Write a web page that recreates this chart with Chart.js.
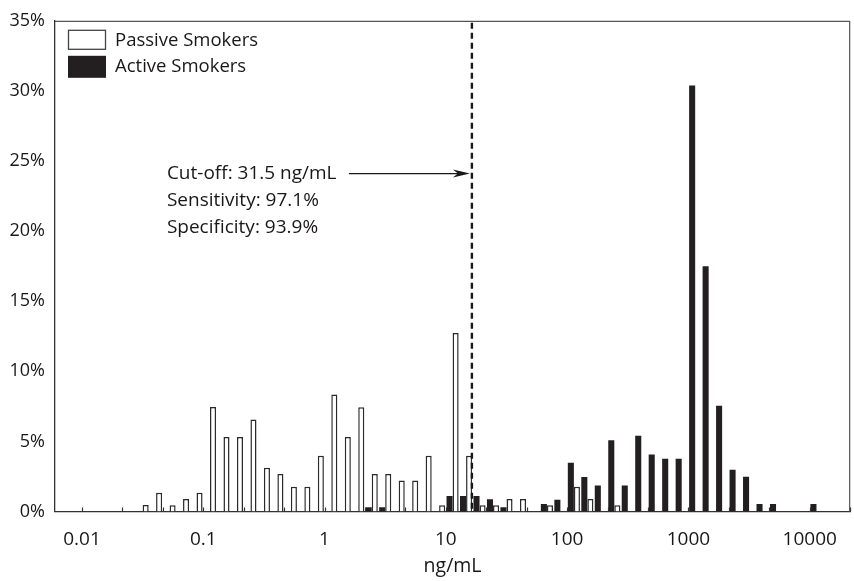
<!DOCTYPE html>
<html><head><meta charset="utf-8">
<script src="https://cdn.jsdelivr.net/npm/chart.js@4.4.0/dist/chart.umd.min.js"></script>
<style>html,body{margin:0;padding:0;background:#fff}#wrap{width:854px;height:581px;position:relative}</style>
</head><body><div id="wrap"><canvas id="c" width="854" height="581"></canvas></div>
<script>
// ---- data (percent of subjects per log-spaced bin, 9 bins per decade) ----
const seriesNames = ['Passive Smokers', 'Active Smokers'];
const passive = [
  0,0,0,0,0,0,0.46,1.34,0.44,0.89,
  1.34,7.46,5.31,5.31,6.56,3.12,2.67,1.77,1.77,3.97,
  8.35,5.31,7.44,2.67,2.67,2.22,2.22,3.97,0.44,12.73,
  3.97,0.44,0.44,0.89,0.89,0,0.44,0,1.77,0.89,
  0,0.44,0,0,0,0,0,0,0,0,
  0,0,0,0,0,0,0,0,0
];
const active = [
  0,0,0,0,0,0,0,0,0,0,
  0,0,0,0,0,0,0,0,0,0,
  0,0,0,0.3,0.3,0,0,0,0,1.1,
  1.1,1.1,0.87,0.3,0,0,0.53,0.84,3.48,2.46,
  1.86,5.09,1.86,5.4,4.07,3.77,3.77,30.38,17.49,7.54,
  2.98,2.48,0.53,0.53,0,0,0.53,0,0
];
const xTickValues = [0.01, 0.1, 1, 10, 100, 1000, 10000];
const xTickLabels = ['0.01', '0.1', '1', '10', '100', '1000', '10000'];
const yTickValues = [0, 5, 10, 15, 20, 25, 30, 35];
const xTitle = 'ng/mL';
const noteLines = ['Cut-off: 31.5 ng/mL', 'Sensitivity: 97.1%', 'Specificity: 93.9%'];
const cutoffDrawnAt = 16.4;   // ng/mL where the dashed line is drawn in the figure
const arrowLevel = 24.1;      // % level of the arrow

// ---- axis mapping: bin units, 9 bins per decade, bin 20 starts at 1 ng/mL ----
const binsPerDecade = 9, binOfOne = 20;
const binCount = passive.length;
const pos = v => binsPerDecade * Math.log10(v) + binOfOne;

const FONT = "'Open Sans', 'DejaVu Sans', sans-serif";
Chart.defaults.font.family = FONT;
Chart.defaults.color = '#1a1718';

const toPoints = arr => arr.map((v, i) => ({ x: i + 0.5, y: v === 0 ? null : v }));

const decor = {
  id: 'decor',
  afterDatasetsDraw(chart) {
    const { ctx, chartArea: a, scales: { x, y } } = chart;
    ctx.save();
    // frame top/right
    ctx.strokeStyle = '#555'; ctx.lineWidth = 1.2; ctx.setLineDash([]);
    ctx.beginPath(); ctx.moveTo(a.left, a.top + 0.5); ctx.lineTo(a.right - 0.5, a.top + 0.5); ctx.lineTo(a.right - 0.5, a.bottom); ctx.stroke();
    // inward minor ticks every 1/3 decade
    ctx.strokeStyle = '#333'; ctx.lineWidth = 1.2;
    for (let b = pos(xTickValues[0]); b <= binCount + 0.01; b += binsPerDecade / 3) {
      const px = Math.round(x.getPixelForValue(b)) + 0.5;
      ctx.beginPath(); ctx.moveTo(px, a.bottom); ctx.lineTo(px, a.bottom - 4); ctx.stroke();
    }
    // dashed cut-off line
    const cx = x.getPixelForValue(pos(cutoffDrawnAt));
    ctx.strokeStyle = '#1a1718'; ctx.lineWidth = 2.4; ctx.setLineDash([6, 4]);
    ctx.beginPath(); ctx.moveTo(cx, a.top + 2); ctx.lineTo(cx, a.bottom); ctx.stroke();
    ctx.setLineDash([]);
    // arrow
    const ay = y.getPixelForValue(arrowLevel);
    const tip = cx - 2, tail = cx - 123;
    ctx.lineWidth = 1.3;
    ctx.beginPath(); ctx.moveTo(tail, ay); ctx.lineTo(tip - 10, ay); ctx.stroke();
    ctx.fillStyle = '#1a1718';
    ctx.beginPath(); ctx.moveTo(tip, ay); ctx.lineTo(tip - 17, ay - 4); ctx.lineTo(tip - 12, ay); ctx.lineTo(tip - 17, ay + 4); ctx.closePath(); ctx.fill();
    // notes
    ctx.font = '19px ' + FONT; ctx.textBaseline = 'middle'; ctx.textAlign = 'left';
    noteLines.forEach((t, i) => ctx.fillText(t, tail - 182, ay + i * 27));
    // legend
    const lx = a.left + 13, ly = a.top + 9;
    ctx.font = '18.5px ' + FONT;
    ctx.fillStyle = '#fff'; ctx.strokeStyle = '#444'; ctx.lineWidth = 1.3;
    ctx.fillRect(lx, ly, 38, 20); ctx.strokeRect(lx + 0.5, ly + 0.5, 37, 19);
    ctx.fillStyle = '#231f20';
    ctx.fillRect(lx, ly + 26, 38, 22);
    ctx.fillStyle = '#1a1718';
    ctx.fillText(seriesNames[0], lx + 47, ly + 11);
    ctx.fillText(seriesNames[1], lx + 47, ly + 37);
    ctx.restore();
  }
};

new Chart(document.getElementById('c'), {
  type: 'bar',
  data: {
    datasets: [
      { label: seriesNames[1], data: toPoints(active), backgroundColor: '#231f20', borderColor: '#231f20', borderWidth: 0,
        categoryPercentage: 0.9, barPercentage: 1.0 },
      { label: seriesNames[0], data: toPoints(passive), backgroundColor: '#ffffff', borderColor: '#2a2a2a', borderWidth: 1.5,
        borderSkipped: 'bottom', categoryPercentage: 0.9, barPercentage: 1.0 }
    ]
  },
  options: {
    responsive: false, animation: false, devicePixelRatio: 1,
    layout: { padding: { top: 20, right: 2, left: 0, bottom: 0 } },
    plugins: { legend: { display: false }, tooltip: { enabled: false } },
    scales: {
      x: {
        type: 'linear', min: 0, max: binCount, offset: false,
        grid: { display: false, drawTicks: false },
        border: { display: true, color: '#333', width: 1.3 },
        afterBuildTicks: s => { s.ticks = xTickValues.map(v => ({ value: pos(v) })); },
        ticks: { autoSkip: false, maxRotation: 0, padding: 17, font: { size: 19 }, color: '#1a1718',
          callback: (val, i) => xTickLabels[i] },
        title: { display: true, text: xTitle, font: { size: 19.5 }, color: '#1a1718', padding: { top: 4, bottom: 3 } },
        afterFit: s => { s.height = 69.5; }
      },
      y: {
        min: 0, max: 35,
        grid: { display: false, drawTicks: false },
        border: { display: true, color: '#333', width: 1.3 },
        afterBuildTicks: s => { s.ticks = yTickValues.map(v => ({ value: v })); },
        ticks: { padding: 10, font: { size: 18 }, color: '#1a1718', callback: v => v + '%' },
        afterFit: s => { s.width = 55; }
      }
    }
  },
  plugins: [decor]
});
</script></body></html>
